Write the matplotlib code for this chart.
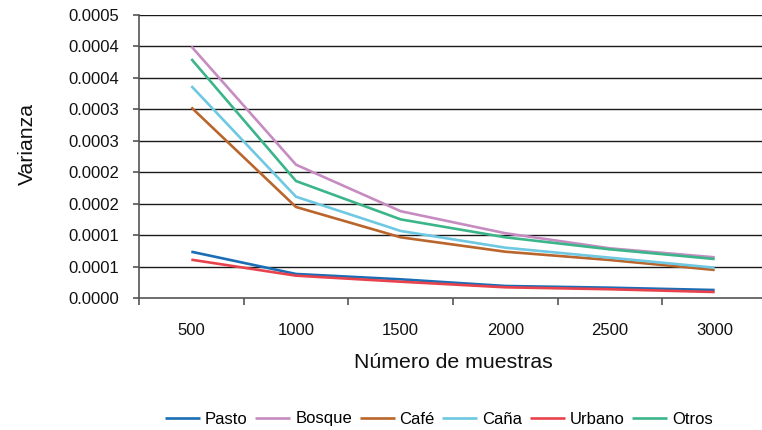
import matplotlib
matplotlib.use("Agg")
import matplotlib.pyplot as plt
from matplotlib.ticker import FixedLocator

plt.rcParams['font.family'] = ['Liberation Sans', 'DejaVu Sans']

categories = ["500", "1000", "1500", "2000", "2500", "3000"]
pasto = [0.0000736, 0.0000382, 0.0000297, 0.0000191, 0.0000164, 0.0000127]
bosque = [0.000400, 0.000212, 0.000138, 0.000103, 0.000079, 0.0000647]
cafe = [0.000303, 0.0001447, 0.0000965, 0.0000736, 0.0000604, 0.0000446]
cana = [0.000337, 0.000161, 0.0001066, 0.000080, 0.0000641, 0.0000482]
urbano = [0.0000609, 0.0000355, 0.0000259, 0.000017, 0.0000139, 0.0000095]
otros = [0.000380, 0.000186, 0.000125, 0.0000965, 0.0000774, 0.000062]

series_names = ["Pasto", "Bosque", "Café", "Caña", "Urbano", "Otros"]
series_vals = [pasto, bosque, cafe, cana, urbano, otros]
colors = ["#1b6db5", "#c68cc2", "#b9652b", "#6ec8e2", "#e8434c", "#3bb589"]

y_ticks = [0, 0.00005, 0.0001, 0.00015, 0.0002, 0.00025, 0.0003, 0.00035, 0.0004, 0.00045]
y_labels = ["0.0000", "0.0001", "0.0001", "0.0002", "0.0002", "0.0003", "0.0003", "0.0004", "0.0004", "0.0005"]

W, H = 762, 430
fig = plt.figure(figsize=(W / 100, H / 100), dpi=100)
left, right, top, bottom = 139, 767, 15, 298
ax = fig.add_axes([left / W, 1 - bottom / H, (right - left) / W, (bottom - top) / H])

x = list(range(len(categories)))
for name, vals, c in zip(series_names, series_vals, colors):
    ax.plot(x, vals, color=c, lw=1.9, label=name, solid_capstyle='butt', zorder=3)

ax.set_xlim(-0.5, len(categories) - 0.5)
ax.set_ylim(0, 0.00045)
ax.set_yticks(y_ticks)
ax.set_yticklabels(y_labels, fontsize=12, color='#111111')
for yv in y_ticks[1:]:
    ax.axhline(yv, color='#1a1a1a', lw=1.0, zorder=1)

ax.set_xticks(x)
ax.set_xticklabels(categories, fontsize=12, color='#111111')
ax.tick_params(axis='x', which='major', length=0, pad=18)
ax.xaxis.set_minor_locator(FixedLocator([i - 0.5 for i in range(len(categories) + 1)]))
ax.tick_params(axis='x', which='minor', length=5, width=1.2, color='#555555')
ax.tick_params(axis='y', length=4, width=1.2, color='#555555', pad=10)

for s in ['top', 'right']:
    ax.spines[s].set_visible(False)
for s in ['left', 'bottom']:
    ax.spines[s].set_color('#555555')
    ax.spines[s].set_linewidth(1.2)

fig.text(453 / W, 1 - 362 / H, "Número de muestras", ha='center', va='center', fontsize=15.3, color='#111111')
fig.text(27 / W, 1 - 144 / H, "Varianza", ha='center', va='center', rotation=90, fontsize=15.3, color='#111111')

fig.legend(loc='center', bbox_to_anchor=(439 / W, 1 - 419 / H), ncol=6, frameon=False,
           fontsize=12, handlelength=2.1, handletextpad=0.3, columnspacing=0.45)

fig.savefig("out.png", dpi=100)
